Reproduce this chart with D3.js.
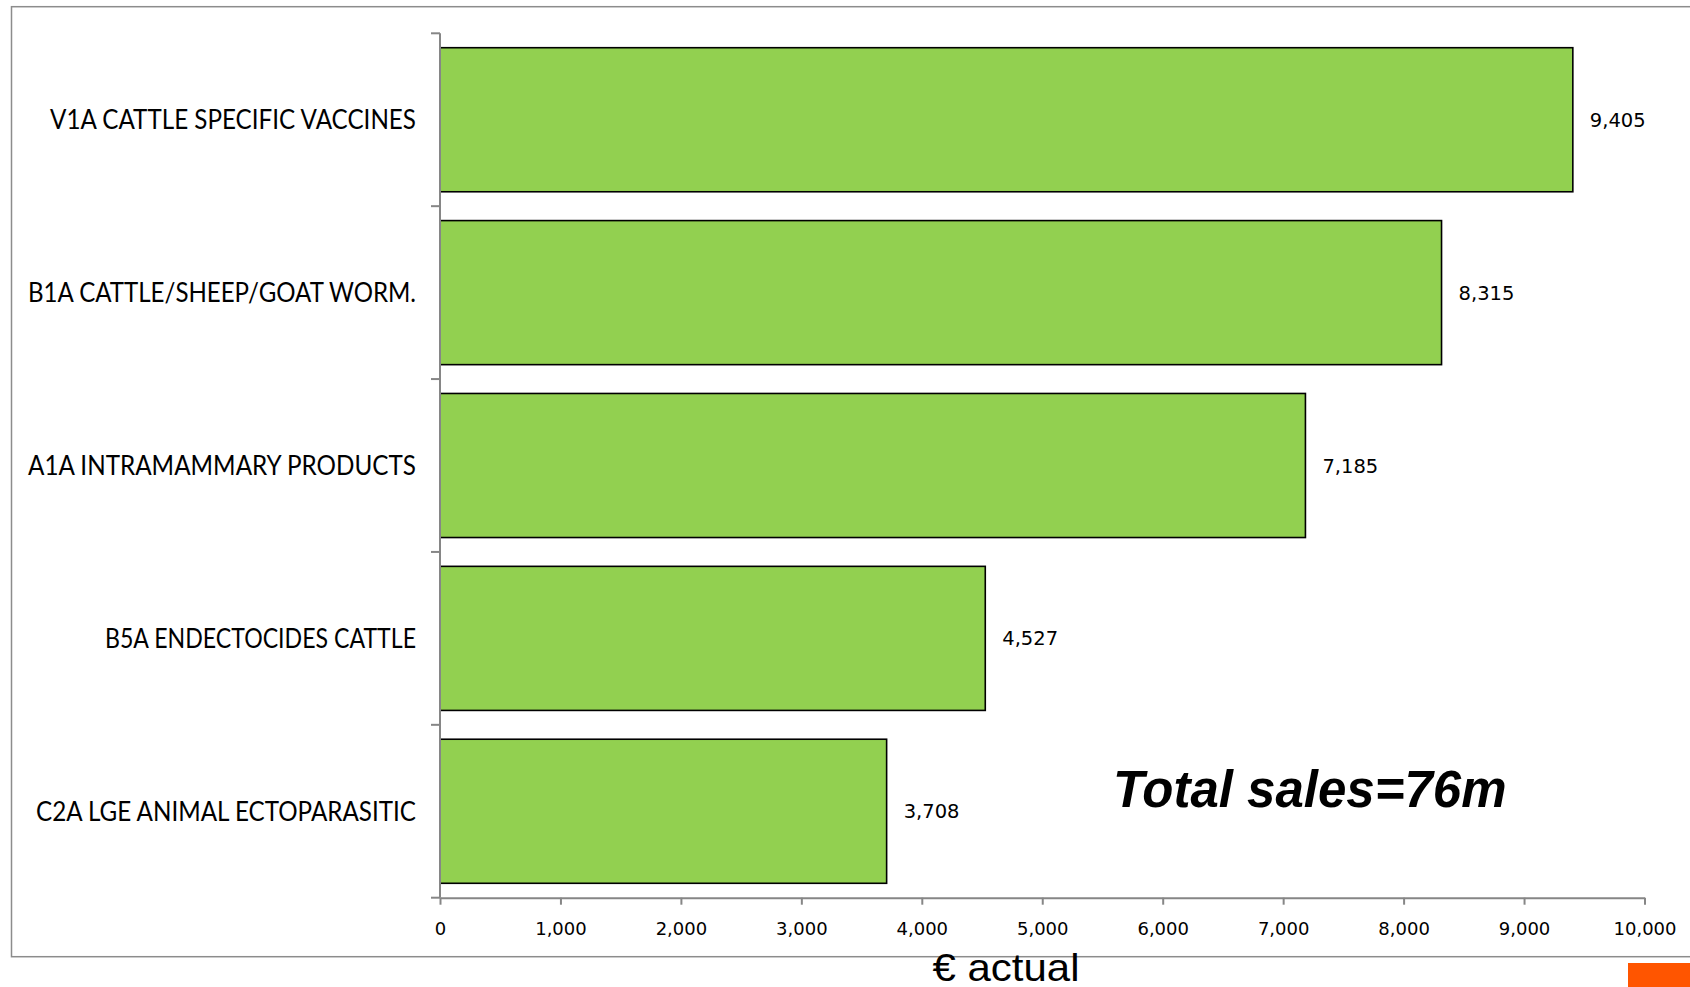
<!DOCTYPE html>
<html>
<head>
<meta charset="utf-8">
<script src="https://cdn.jsdelivr.net/npm/d3@7"></script>
<style>
  html, body { margin: 0; padding: 0; background: #fff; }
  svg { display: block; }
</style>
</head>
<body>
<svg id="chart" width="1690" height="987"></svg>
<script>
const categories = [
  "V1A CATTLE SPECIFIC VACCINES",
  "B1A CATTLE/SHEEP/GOAT WORM.",
  "A1A INTRAMAMMARY PRODUCTS",
  "B5A ENDECTOCIDES CATTLE",
  "C2A LGE ANIMAL ECTOPARASITIC"
];
const values = [9405, 8315, 7185, 4527, 3708];
const xTicks = [0, 1000, 2000, 3000, 4000, 5000, 6000, 7000, 8000, 9000, 10000];
const axisTitle = "€ actual";
const annotation = "Total sales=76m";

// layout: rendered width of each category label (px), to mimic the narrow original font
const labelWidths = [366, 388, 388, 311, 380];

const svg = d3.select("#chart");
const fmt = d3.format(",");

// frame
svg.append("rect")
  .attr("x", 11.5).attr("y", 6.7)
  .attr("width", 1700).attr("height", 950)
  .attr("fill", "none").attr("stroke", "#8c8c8c").attr("stroke-width", 1.5);

const x = d3.scaleLinear().domain([0, 10000]).range([440, 1644.5]);
const y = d3.scaleBand().domain(categories).range([33.3, 897.7])
  .paddingInner(1/6).paddingOuter(1/12);

// bars
svg.append("g").selectAll("rect").data(values).join("rect")
  .attr("x", x(0))
  .attr("y", (d, i) => y(categories[i]))
  .attr("width", d => x(d) - x(0))
  .attr("height", y.bandwidth())
  .attr("fill", "#92D050")
  .attr("stroke", "#000").attr("stroke-width", 1.6);

// x axis
const xAxis = svg.append("g").attr("transform", "translate(0,897.7)")
  .call(d3.axisBottom(x).tickValues(xTicks).tickFormat(fmt).tickSize(7).tickSizeOuter(0));
xAxis.select(".domain").attr("stroke", "#868686").attr("stroke-width", 2);
xAxis.selectAll(".tick line").attr("stroke", "#868686").attr("stroke-width", 2);
xAxis.selectAll(".tick text")
  .attr("y", 31).attr("dy", "0.35em")
  .attr("fill", "#000")
  .style("font-family", "'DejaVu Sans', sans-serif")
  .style("font-size", "18px");

// y axis
const yEdges = d3.range(categories.length + 1).map(i => 33.3 + i * y.step());
const yAxisG = svg.append("g");
yAxisG.append("line")
  .attr("x1", 440).attr("x2", 440).attr("y1", 33.3).attr("y2", 897.7)
  .attr("stroke", "#868686").attr("stroke-width", 2);
yAxisG.selectAll("line.tk").data(yEdges).join("line").attr("class", "tk")
  .attr("x1", 431).attr("x2", 440).attr("y1", d => d).attr("y2", d => d)
  .attr("stroke", "#868686").attr("stroke-width", 2);

// category labels
svg.append("g").selectAll("text").data(categories).join("text")
  .attr("x", 416)
  .attr("y", d => y(d) + y.bandwidth() / 2)
  .attr("dy", "0.36em")
  .attr("text-anchor", "end")
  .attr("textLength", (d, i) => labelWidths[i])
  .attr("lengthAdjust", "spacingAndGlyphs")
  .style("font-family", "Lato, 'Open Sans', sans-serif")
  .style("font-size", "27px")
  .attr("fill", "#000")
  .text(d => d);

// value labels
svg.append("g").selectAll("text").data(values).join("text")
  .attr("x", d => x(d) + 17)
  .attr("y", (d, i) => y(categories[i]) + y.bandwidth() / 2)
  .attr("dy", "0.36em")
  .style("font-family", "'DejaVu Sans', sans-serif")
  .style("font-size", "19.5px")
  .attr("fill", "#000")
  .text(d => fmt(d));

// annotation
svg.append("text")
  .attr("x", 1113).attr("y", 806.5)
  .style("font-family", "'Liberation Sans', Arial, sans-serif")
  .style("font-size", "51px")
  .style("font-weight", "bold")
  .style("font-style", "italic")
  .attr("fill", "#000")
  .text(annotation);

// axis title
svg.append("text")
  .attr("x", 1006).attr("y", 981)
  .attr("text-anchor", "middle")
  .style("font-family", "'Liberation Sans', Arial, sans-serif")
  .style("font-size", "39px")
  .attr("textLength", 147)
  .attr("lengthAdjust", "spacingAndGlyphs")
  .attr("fill", "#000")
  .text(axisTitle);

// orange corner block
svg.append("rect")
  .attr("x", 1628).attr("y", 963).attr("width", 62).attr("height", 24)
  .attr("fill", "#FF5500");
</script>
</body>
</html>
